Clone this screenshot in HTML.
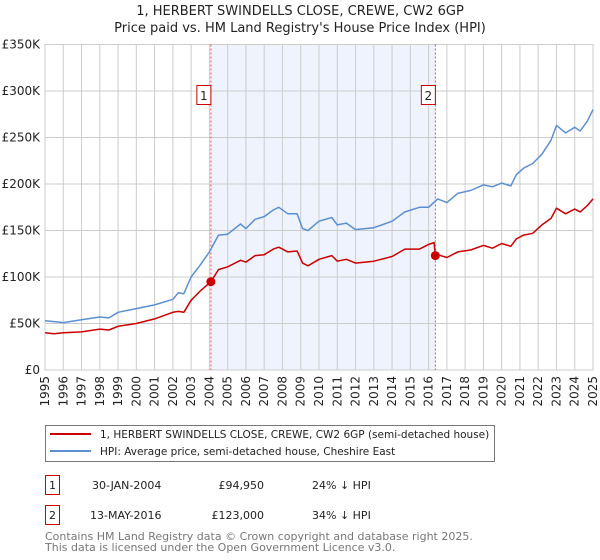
<!DOCTYPE html>
<html><head><meta charset="utf-8"><style>
body{margin:0;background:#fff;font-family:"DejaVu Sans","Liberation Sans",sans-serif;}
#wrap{position:relative;width:600px;height:560px;overflow:hidden;}
svg text{font-family:"DejaVu Sans","Liberation Sans",sans-serif;}
</style></head><body>
<div id="wrap">
<svg id="chart" width="600" height="560"></svg>
</div>
<script>
const years=[1995,1996,1997,1998,1999,2000,2001,2002,2003,2004,2005,2006,2007,2008,2009,2010,2011,2012,2013,2014,2015,2016,2017,2018,2019,2020,2021,2022,2023,2024,2025];
const yTicks=[0,50000,100000,150000,200000,250000,300000,350000];
const yTickLabels=["£0","£50K","£100K","£150K","£200K","£250K","£300K","£350K"];
const hpiT=[1995,1995.5,1996,1997,1998,1998.5,1999,2000,2001,2002,2002.3,2002.6,2003,2003.5,2004,2004.5,2005,2005.7,2006,2006.5,2007,2007.5,2007.8,2008.3,2008.8,2009.1,2009.4,2010,2010.7,2011,2011.5,2012,2013,2014,2014.7,2015.5,2016,2016.5,2017,2017.6,2018.3,2019,2019.5,2020,2020.5,2020.8,2021.2,2021.7,2022.2,2022.7,2023,2023.5,2024,2024.3,2024.7,2025];
const hpiV=[53,52,51,54,57,56,62,66,70,76,83,82,100,113,127,145,146,157,152,162,165,172,175,168,168,152,150,160,164,156,158,151,153,160,170,175,175,184,180,190,193,199,197,201,198,210,217,222,232,247,263,255,261,257,268,280];
const redT=[1995,1995.5,1996,1997,1998,1998.5,1999,2000,2001,2002,2002.3,2002.6,2003,2003.5,2004.08,2004.5,2005,2005.7,2006,2006.5,2007,2007.5,2007.8,2008.3,2008.8,2009.1,2009.4,2010,2010.7,2011,2011.5,2012,2013,2014,2014.7,2015.5,2016,2016.3,2016.37,2016.5,2017,2017.6,2018.3,2019,2019.5,2020,2020.5,2020.8,2021.2,2021.7,2022.2,2022.7,2023,2023.5,2024,2024.3,2024.7,2025];
const redV=[40,39,40,41,44,43,47,50,55,62,63,62,75,85,94.95,108,111,118,116,123,124,130,132,127,128,115,112,119,123,117,119,115,117,122,130,130,135,137,123,124,121,127,129,134,131,136,133,141,145,147,156,163,174,168,173,170,177,184];
const sales=[{t:2004.08,v:94950,label:"1"},{t:2016.37,v:123000,label:"2"}];

const L=45,R=593,T=44.5,B=370;
const x=t=>L+(t-1995)/30*(R-L);
const y=v=>B-v/350000*(B-T);
const svg=document.getElementById('chart');
const NS="http://www.w3.org/2000/svg";
function mk(tag,attrs,parent){const e=document.createElementNS(NS,tag);for(const k in attrs)e.setAttribute(k,attrs[k]);(parent||svg).appendChild(e);return e;}

const sh=mk('rect',{x:x(sales[0].t),y:T,width:x(sales[1].t)-x(sales[0].t),height:B-T,fill:'#e8effc',opacity:0.75});


years.forEach(yr=>{
 const l=mk('line',{x1:x(yr),x2:x(yr),y1:T,y2:B,stroke:'#cccccc','stroke-width':1});
 
 
 const tx=mk('text',{x:0,y:0,'font-size':12,fill:'#222','text-anchor':'end',transform:`translate(${x(yr)+4},${B+6}) rotate(-90)`});
 tx.textContent=yr;
 
 
});
yTicks.forEach((v,i)=>{
 const l=mk('line',{x1:L,x2:R,y1:y(v),y2:y(v),stroke:'#cccccc','stroke-width':1});
 
 
 const tx=mk('text',{x:L-5,y:y(v)+4,'font-size':12,fill:'#222','text-anchor':'end'});
 tx.textContent=yTickLabels[i];
 
 
});
const fr=mk('rect',{x:L,y:T,width:R-L,height:B-T,fill:'none',stroke:'#cccccc'});


sales.forEach(s=>{
 const l=mk('line',{x1:x(s.t),x2:x(s.t),y1:T,y2:B,stroke:'#e05050','stroke-width':1,'stroke-dasharray':'2,2'});
 
 
 const g=mk('g',{});
 
 
 mk('rect',{x:x(s.t)-14,y:85.5,width:14,height:19,fill:'#fff',stroke:'#cc0000'},g);
 const t=mk('text',{x:x(s.t)-7,y:100,'font-size':12,'text-anchor':'middle',fill:'#222'},g);
 t.textContent=s.label;
});
function line(ts,vs,color,name){
 const d=ts.map((t,i)=>(i?'L':'M')+x(t).toFixed(1)+','+y(vs[i]*1000).toFixed(1)).join('');
 const p=mk('path',{d:d,fill:'none',stroke:color,'stroke-width':1.5,'stroke-linejoin':'round'});
 
 
}
line(hpiT,hpiV,'#5b8fd4','hpi-line');
line(redT,redV,'#cc0000','price-paid-line');
sales.forEach(s=>{
 const c=mk('circle',{cx:x(s.t),cy:y(s.v),r:4.5,fill:'#cc0000'});
 
 
});
</script>
<svg style="position:absolute;left:0;top:0" width="600" height="560">
<text x="300" y="15" font-size="13" text-anchor="middle" fill="#222">1, HERBERT SWINDELLS CLOSE, CREWE, CW2 6GP</text>
<text x="300" y="32" font-size="13" text-anchor="middle" fill="#222">Price paid vs. HM Land Registry's House Price Index (HPI)</text>
<g>
<rect x="45.5" y="425.5" width="449" height="36" fill="#fff" stroke="#777"/>
<line x1="50" x2="91" y1="434" y2="434" stroke="#cc0000" stroke-width="2"/>
<text x="100" y="438" font-size="10.5" fill="#222">1, HERBERT SWINDELLS CLOSE, CREWE, CW2 6GP (semi-detached house)</text>
<line x1="50" x2="91" y1="451" y2="451" stroke="#5b8fd4" stroke-width="2"/>
<text x="100" y="455" font-size="10.5" fill="#222">HPI: Average price, semi-detached house, Cheshire East</text>
</g>
<g font-size="11" fill="#222">
<rect x="45.5" y="475.5" width="14" height="19" fill="#fff" stroke="#cc0000"/>
<text x="52.5" y="489" text-anchor="middle">1</text>
<text x="92" y="489">30-JAN-2004</text>
<text x="264" y="489" text-anchor="end">£94,950</text>
<text x="312" y="489">24% ↓ HPI</text>
<rect x="45.5" y="505.5" width="14" height="19" fill="#fff" stroke="#cc0000"/>
<text x="52.5" y="519" text-anchor="middle">2</text>
<text x="90" y="519">13-MAY-2016</text>
<text x="264" y="519" text-anchor="end">£123,000</text>
<text x="312" y="519">34% ↓ HPI</text>
</g>
<text x="45" y="540" font-size="11" fill="#777">Contains HM Land Registry data © Crown copyright and database right 2025.</text>
<text x="45" y="551" font-size="11" fill="#777">This data is licensed under the Open Government Licence v3.0.</text>
</svg>
</body></html>
